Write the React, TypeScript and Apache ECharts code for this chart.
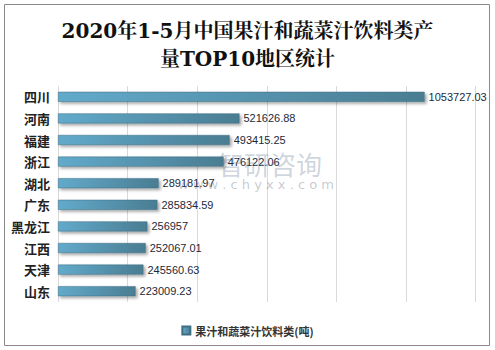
import React, { useEffect, useRef } from "react";
import * as echarts from "echarts";

const categories = ["四川", "河南", "福建", "浙江", "湖北", "广东", "黑龙江", "江西", "天津", "山东"];
const values = [1053727.03, 521626.88, 493415.25, 476122.06, 289181.97, 285834.59, 256957, 252067.01, 245560.63, 223009.23];
const seriesName = "果汁和蔬菜汁饮料类(吨)";
const titleText = "2020年1-5月中国果汁和蔬菜汁饮料类产\n量TOP10地区统计";

export default function App() {
  const ref = useRef<HTMLDivElement>(null);
  useEffect(() => {
    if (!ref.current) return;
    const chart = echarts.init(ref.current, null, { renderer: "svg" });
    chart.setOption({
      animation: false,
      backgroundColor: "#ffffff",
      title: {
        text: titleText,
        left: "center",
        top: 12,
        textStyle: {
          fontFamily: "DejaVu Serif, Noto Serif CJK SC, serif",
          fontSize: 20,
          fontWeight: "bold",
          color: "#111",
          lineHeight: 28,
          align: "center",
        },
      },
      graphic: [
        {
          type: "rect",
          shape: { x: 4.5, y: 4.5, width: 485, height: 341 },
          style: { fill: "none", stroke: "#8a8a8a", lineWidth: 1 },
          silent: true,
        },
        {
          type: "text",
          x: 218,
          y: 150,
          style: {
            text: "智研咨询",
            fontSize: 26,
            fontFamily: "Noto Sans CJK SC",
            fill: "rgba(90,110,140,0.3)",
          },
          silent: true,
          z: 100,
        },
        {
          type: "text",
          x: 178,
          y: 178,
          style: {
            text: "w w w . c h y x x . c o m",
            fontSize: 13,
            fontFamily: "DejaVu Sans",
            fill: "rgba(90,100,120,0.35)",
          },
          silent: true,
          z: 100,
        },
      ],
      legend: {
        data: [seriesName],
        left: "center",
        top: 320,
        icon: "rect",
        itemWidth: 8,
        itemHeight: 8,
        itemGap: 4,
        textStyle: {
          fontFamily: "Noto Sans CJK SC",
          fontSize: 11,
          fontWeight: "bold",
          color: "#333",
        },
      },
      grid: { left: 58, right: 19.5, top: 86, bottom: 48, containLabel: false },
      xAxis: {
        type: "value",
        min: 0,
        max: 1200000,
        interval: 200000,
        axisLabel: { show: false },
        axisLine: { show: false },
        axisTick: { show: false },
        splitLine: { show: true, lineStyle: { color: "#d9d9d9", width: 1 } },
      },
      yAxis: {
        type: "category",
        data: categories,
        inverse: true,
        axisLine: { show: false },
        axisTick: { show: false },
        axisLabel: {
          margin: 8,
          fontFamily: "Noto Sans CJK SC",
          fontSize: 13,
          fontWeight: "bold",
          color: "#222",
        },
      },
      series: [
        {
          name: seriesName,
          type: "bar",
          data: values,
          barWidth: 10,
          itemStyle: {
            color: new echarts.graphic.LinearGradient(0, 0, 1, 0, [
              { offset: 0, color: "#62aacb" },
              { offset: 1, color: "#4a7d92" },
            ]),
            borderColor: "#3f6f82",
            borderWidth: 0.5,
            shadowColor: "rgba(0,0,0,0.35)",
            shadowBlur: 3,
            shadowOffsetX: 2,
            shadowOffsetY: 2,
          },
          label: {
            show: true,
            position: "right",
            distance: 4,
            fontFamily: "Liberation Sans, Arial",
            fontSize: 11,
            color: "#1b2a3a",
          },
        },
      ],
    });
    return () => chart.dispose();
  }, []);
  return (
    <div
      ref={ref}
      style={{ position: "fixed", left: 0, top: 0, width: 495, height: 350 }}
    />
  );
}
